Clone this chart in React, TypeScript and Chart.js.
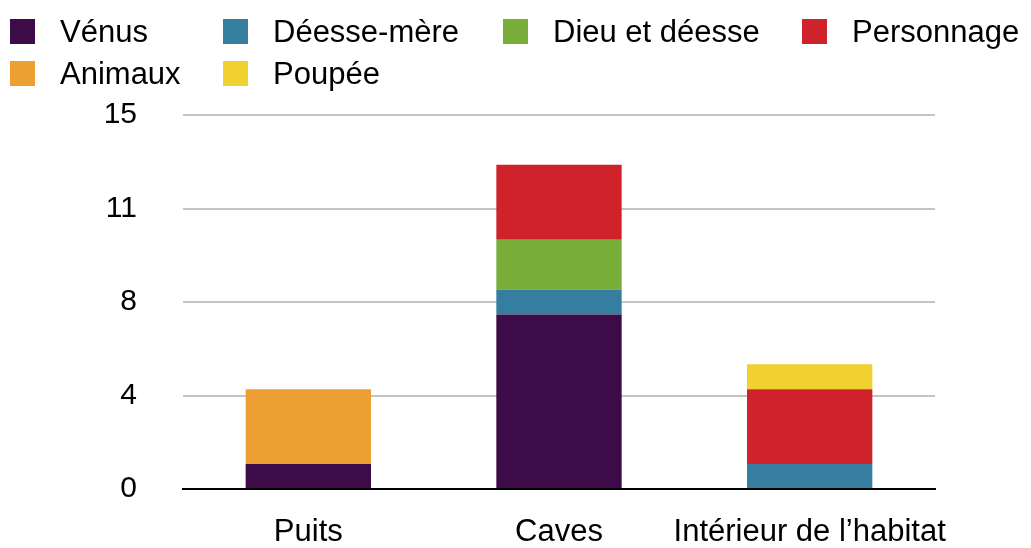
import React, { useEffect, useRef } from "react";
import { Chart, registerables } from "chart.js";

Chart.register(...registerables);

const categories = ["Puits", "Caves", "Intérieur de l’habitat"];
const seriesNames = ["Vénus", "Déesse-mère", "Dieu et déesse", "Personnage", "Animaux", "Poupée"];
const venus = [1, 7, 0];
const deesseMere = [0, 1, 1];
const dieuEtDeesse = [0, 2, 0];
const personnage = [0, 3, 3];
const animaux = [3, 0, 0];
const poupee = [0, 0, 1];
const seriesColors = ["#3d0b47", "#367ea0", "#79ae3b", "#cf232c", "#eca031", "#f1d12f"];
const yMin = 0;
const yMax = 15;
const yStep = 3.75;

const FONT = '"Liberation Sans", Arial, Helvetica, sans-serif';

const legendRows = [
  [0, 1, 2, 3],
  [4, 5],
];
const legendColLeft = [10, 223, 503, 802];
const legendRowTop = [19, 61];

export default function App() {
  const canvasRef = useRef<HTMLCanvasElement | null>(null);

  useEffect(() => {
    const canvas = canvasRef.current;
    if (!canvas) return;
    const values = [venus, deesseMere, dieuEtDeesse, personnage, animaux, poupee];
    const chart = new Chart(canvas, {
      type: "bar",
      data: {
        labels: categories,
        datasets: seriesNames.map((name, i) => ({
          label: name,
          data: values[i],
          backgroundColor: seriesColors[i],
          borderWidth: 0,
          barPercentage: 1,
          categoryPercentage: 0.5,
        })),
      },
      options: {
        animation: false,
        responsive: false,
        devicePixelRatio: 1,
        layout: { padding: { top: 115, right: 96, left: 0, bottom: 0 } },
        plugins: {
          legend: { display: false },
          tooltip: { enabled: false },
        },
        scales: {
          x: {
            stacked: true,
            grid: { display: false, drawTicks: false },
            border: { display: true, color: "#000000", width: 2 },
            ticks: {
              color: "#000000",
              font: { family: FONT, size: 31 },
              padding: 25,
              maxRotation: 0,
              autoSkip: false,
            },
            afterFit: (scale: any) => {
              scale.height = 59;
            },
          },
          y: {
            stacked: true,
            min: yMin,
            max: yMax,
            grid: { color: "#c4c4c4", lineWidth: 2, drawTicks: false },
            border: { display: false },
            ticks: {
              stepSize: yStep,
              color: "#000000",
              font: { family: FONT, size: 30 },
              padding: 46,
              callback: (v: any) => String(Math.round(Number(v))),
            },
            afterFit: (scale: any) => {
              scale.width = 183;
              scale.paddingTop = 0;
              scale.paddingBottom = 0;
            },
          },
        },
      },
    });
    return () => chart.destroy();
  }, []);

  return (
    <div style={{ position: "absolute", left: 0, top: 0, width: 1031, height: 548, background: "#ffffff" }}>
      <canvas ref={canvasRef} width={1031} height={548} style={{ position: "absolute", left: 0, top: 0 }} />
      {legendRows.map((row, r) =>
        row.map((si, c) => (
          <div
            key={si}
            style={{
              position: "absolute",
              left: legendColLeft[c],
              top: legendRowTop[r],
              height: 25,
              display: "flex",
              alignItems: "center",
              whiteSpace: "nowrap",
            }}
          >
            <span style={{ display: "inline-block", width: 25, height: 25, background: seriesColors[si] }} />
            <span
              style={{
                marginLeft: 25,
                fontFamily: FONT,
                fontSize: 31,
                lineHeight: "25px",
                color: "#000000",
              }}
            >
              {seriesNames[si]}
            </span>
          </div>
        ))
      )}
    </div>
  );
}
